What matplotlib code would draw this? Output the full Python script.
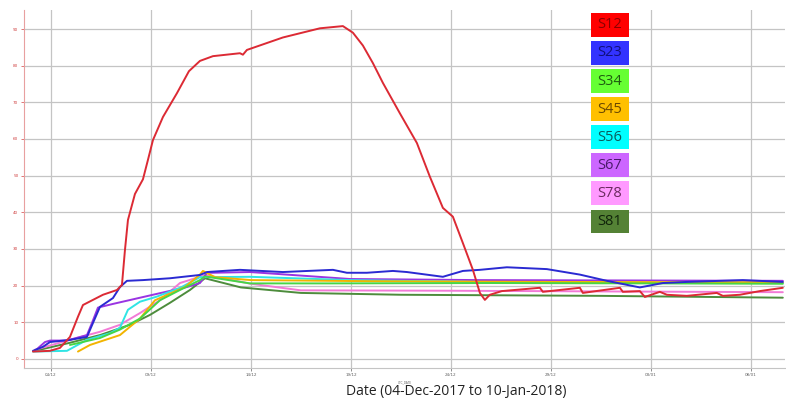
import matplotlib
matplotlib.use("Agg")
import matplotlib.pyplot as plt
import matplotlib.dates as mdates
from matplotlib.patches import Rectangle
import pandas as pd

START = pd.Timestamp("2017-12-04")

# Day offsets from 04-Dec-2017 and readings for each section
s12_days = [-0.9, -0.05, 0.45, 0.95, 1.35, 1.6, 2.6, 3.3, 3.55, 3.7, 3.85, 4.2, 4.6,
            4.85, 5.1, 5.6, 6.3, 6.9, 7.45, 8.1, 9.45, 9.6, 9.8, 11.6, 13.45, 14.6, 15.1,
            15.6, 16.1, 16.6, 17.45, 18.3, 18.95, 19.6, 20.1, 20.6, 21.1, 21.45, 21.7,
            21.95, 22.55, 24.45, 24.6, 26.45, 26.6, 28.45, 28.6, 29.45, 29.7, 30.45,
            30.8, 31.8, 33.3, 33.6, 34.45, 35.45, 36.6]
s12_vals = [2.0, 2.2, 3.0, 6.0, 11.5, 14.7, 17.5, 18.8, 20.2, 29.7, 37.9, 45.0, 49.0,
            54.3, 59.7, 66.0, 72.5, 78.5, 81.3, 82.6, 83.4, 83.0, 84.3, 87.7, 90.2, 90.8, 89.0,
            85.5, 80.7, 75.3, 67.0, 58.9, 49.7, 41.2, 38.8, 31.6, 24.3, 18.0, 16.1,
            17.5, 18.5, 19.4, 18.3, 19.4, 18.0, 19.4, 18.3, 18.5, 16.9, 18.3,
            17.5, 17.2, 18.0, 17.2, 17.5, 18.5, 19.4]

s23_days = [-0.9, -0.4, -0.05, 0.95, 1.8, 2.1, 2.45, 3.1, 3.45, 3.8, 4.6, 5.95, 6.95,
            7.45, 7.8, 9.45, 11.6, 14.1, 14.8, 15.8, 17.1, 17.8, 19.6, 20.6, 21.45,
            22.8, 24.8, 26.45, 27.8, 29.45, 30.6, 31.8, 34.6, 36.6]
s23_vals = [2.2, 3.3, 4.6, 5.2, 6.0, 9.8, 14.2, 16.6, 19.6, 21.3, 21.5, 22.0, 22.6,
            22.9, 23.7, 24.3, 23.7, 24.3, 23.5, 23.5, 24.0, 23.7, 22.4, 24.0, 24.3,
            25.0, 24.5, 23.0, 21.3, 19.5, 20.7, 21.0, 21.5, 21.0]

s34_days = [0.95, 2.45, 3.45, 4.45, 5.45, 6.45, 7.45, 7.7, 9.95, 14.0, 22.0, 30.0, 36.6]
s34_vals = [3.8, 5.7, 8.0, 11.0, 16.0, 18.8, 21.5, 22.5, 20.6, 20.6, 20.7, 20.6, 20.5]

s45_days = [1.35, 1.95, 3.45, 4.45, 5.2, 6.7, 7.45, 7.6, 8.2, 10.0, 16.0, 25.0, 36.6]
s45_vals = [2.0, 3.8, 6.5, 11.0, 16.0, 19.6, 23.0, 24.0, 22.3, 21.5, 21.2, 21.0, 20.9]

s56_days = [-0.9, 0.8, 1.8, 2.95, 3.45, 3.85, 4.45, 5.3, 6.5, 7.45, 9.95, 14.95, 21.5, 36.6]
s56_vals = [2.0, 2.2, 5.2, 7.0, 8.5, 13.4, 15.6, 17.0, 19.5, 22.3, 22.4, 21.5, 21.0, 20.7]

s67_days = [-0.8, -0.3, -0.05, 0.8, 1.8, 2.05, 2.35, 3.1, 5.1, 6.8, 7.45, 7.8, 8.1,
            9.95, 14.95, 21.45, 36.6]
s67_vals = [2.2, 4.6, 5.0, 5.0, 6.5, 9.8, 14.0, 15.0, 17.5, 19.6, 20.7, 23.5, 23.5,
            23.7, 21.8, 21.5, 21.3]

s78_days = [-0.8, 0.95, 2.45, 3.45, 4.45, 5.45, 6.45, 7.45, 7.7, 10.0, 12.5, 20.0, 28.0, 36.6]
s78_vals = [2.5, 5.2, 7.4, 9.3, 12.5, 16.0, 20.7, 22.4, 22.9, 20.5, 18.7, 18.6, 18.4, 18.2]

s81_days = [-0.8, 0.95, 2.45, 3.95, 4.95, 5.95, 6.95, 7.7, 9.5, 12.5, 17.5, 27.5, 36.6]
s81_vals = [2.2, 4.4, 6.5, 9.3, 12.0, 15.3, 18.8, 22.0, 19.5, 18.0, 17.5, 17.2, 16.7]

names = ["S12", "S23", "S34", "S45", "S56", "S67", "S78", "S81"]
line_colors = ["#dc2a34", "#2a2ad2", "#46d646", "#f2b400", "#30e4e4", "#9a34e2",
               "#f27ad6", "#4d8c3c"]
box_colors = ["#ff0000", "#3333ff", "#66ff33", "#ffc000", "#00ffff", "#cc66ff",
              "#ff99ff", "#548235"]
text_colors = ["#8a0000", "#10107a", "#1f5c10", "#6b4a00", "#0a5c5c", "#4a1a6a",
               "#6a2a5e", "#10240a"]

series = [(s12_days, s12_vals), (s23_days, s23_vals), (s34_days, s34_vals),
          (s45_days, s45_vals), (s56_days, s56_vals), (s67_days, s67_vals),
          (s78_days, s78_vals), (s81_days, s81_vals)]

fig = plt.figure(figsize=(7.86, 3.99), dpi=100)
ax = fig.add_axes([0.0305, 0.078, 0.968, 0.897])

# draw S81 first so S12 ends up on top
for i in reversed(range(len(series))):
    days, vals = series[i]
    t = START + pd.to_timedelta(days, unit="D")
    ax.plot(t, vals, color=line_colors[i], lw=1.4, solid_joinstyle="round",
            solid_capstyle="round", zorder=3 + (8 - i))

ax.set_ylim(-2.45, 95.2)
ax.set_xlim(START + pd.Timedelta(days=-1.35), START + pd.Timedelta(days=36.7))
ax.set_yticks(range(0, 100, 10))
ax.set_xticks(pd.date_range(START, periods=8, freq="5D"))
ax.xaxis.set_major_formatter(mdates.DateFormatter("%d/%m"))
ax.grid(True, color="#c4c4c4", lw=0.9)
ax.set_axisbelow(True)

ax.tick_params(axis="y", labelsize=3, colors="#d04040", length=2, width=0.5, pad=2)
ax.tick_params(axis="x", labelsize=3, colors="#606060", length=2, width=0.5, pad=2)
for side in ("top", "right"):
    ax.spines[side].set_visible(False)
ax.spines["left"].set_color("#e8a0a0")
ax.spines["left"].set_linewidth(0.8)
ax.spines["bottom"].set_color("#c4c4c4")
ax.spines["bottom"].set_linewidth(0.8)

ax.set_xlabel("UTC_DATE", fontsize=2, color="#606060", labelpad=2)

# colour key boxes, laid out in axes fractions
box_x, box_w = 0.745, 0.050
box_top, box_h, box_step = 0.992, 0.067, 0.0785
for i, name in enumerate(names):
    y0 = box_top - box_h - i * box_step
    ax.add_patch(Rectangle((box_x, y0), box_w, box_h, transform=ax.transAxes,
                           fc=box_colors[i], ec="none", zorder=20))
    ax.text(box_x + box_w / 2, y0 + box_h / 2, name, transform=ax.transAxes,
            ha="center", va="center", fontsize=10.5, family="Open Sans",
            color=text_colors[i], zorder=21)

fig.text(0.58, 0.02, "Date (04-Dec-2017 to 10-Jan-2018)", ha="center", va="center",
         fontsize=10, family="Open Sans", color="#222222")

fig.savefig("out.png", dpi=100)
